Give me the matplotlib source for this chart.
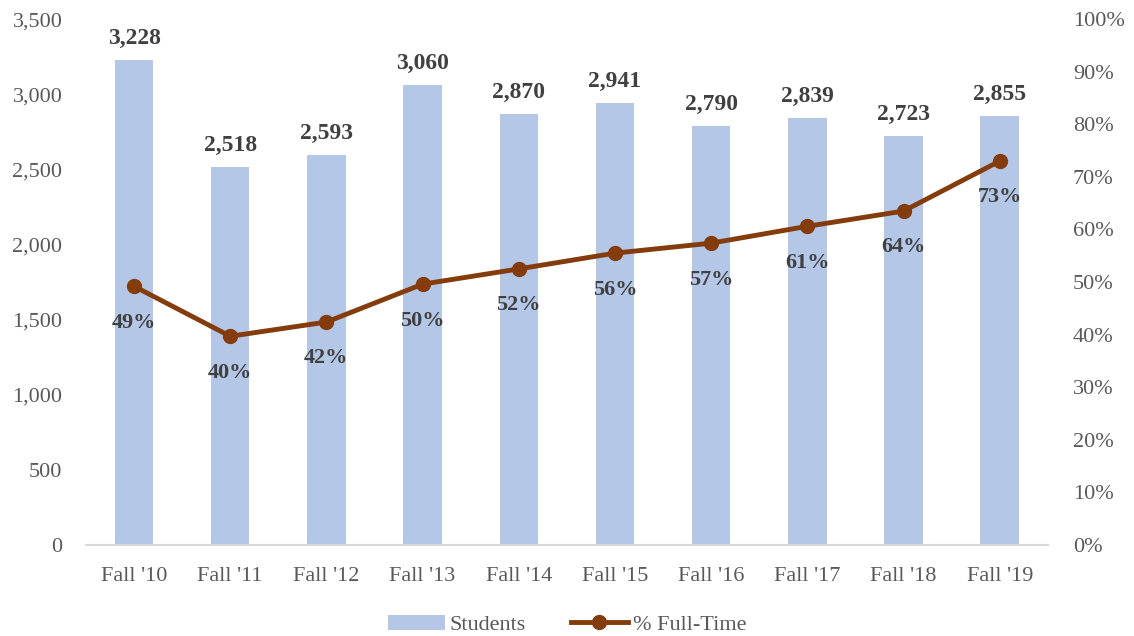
import matplotlib.pyplot as plt
from matplotlib.ticker import FuncFormatter

categories = ["Fall '10", "Fall '11", "Fall '12", "Fall '13", "Fall '14",
              "Fall '15", "Fall '16", "Fall '17", "Fall '18", "Fall '19"]
students = [3228, 2518, 2593, 3060, 2870, 2941, 2790, 2839, 2723, 2855]
pct_full_time = [0.492, 0.397, 0.424, 0.496, 0.525, 0.555, 0.574, 0.606, 0.635, 0.73]

plt.rcParams["font.family"] = ["Liberation Serif", "DejaVu Serif"]
grey = "#595959"
bar_color = "#B4C7E7"
line_color = "#843C0C"

fig = plt.figure(figsize=(11.34, 6.36), dpi=100)
ax = fig.add_axes([0.0758, 0.143, 0.8482, 0.827])
ax2 = ax.twinx()

x = range(len(categories))
bars = ax.bar(x, students, width=0.4, color=bar_color, label="Students", zorder=1)
ax.set_ylim(0, 3500)
ax.set_xlim(-0.5, len(categories) - 0.5)
ax.set_yticks(range(0, 3501, 500))
ax.yaxis.set_major_formatter(FuncFormatter(lambda v, p: f"{int(v):,}"))
ax.set_xticks(list(x))
ax.set_xticklabels(categories)

for xi, v in zip(x, students):
    ax.annotate(f"{v:,}", (xi, v), xytext=(0, 8), textcoords="offset points",
                ha="center", va="bottom", fontsize=17, fontweight="bold", color="#404040")

line, = ax2.plot(x, pct_full_time, color=line_color, lw=3.5, marker="o", ms=10,
                 label="% Full-Time", zorder=3)
ax2.set_ylim(0, 1)
ax2.set_yticks([i / 10 for i in range(11)])
ax2.yaxis.set_major_formatter(FuncFormatter(lambda v, p: f"{v * 100:.0f}%"))

for xi, v in zip(x, pct_full_time):
    ax2.annotate(f"{round(v * 100):.0f}%", (xi, v), xytext=(0, -19), textcoords="offset points",
                 ha="center", va="top", fontsize=16, fontweight="bold", color="#404040")

for a in (ax, ax2):
    for s in ("top", "left", "right", "bottom"):
        a.spines[s].set_visible(False)
    a.tick_params(length=0, labelsize=16, labelcolor=grey)
ax.spines["bottom"].set_visible(True)
ax.spines["bottom"].set_color("#D9D9D9")
ax.spines["bottom"].set_linewidth(1.5)
ax.tick_params(axis="y", pad=17)
ax.tick_params(axis="x", pad=16)
ax2.tick_params(axis="y", pad=18)

fig.legend([bars, line], ["Students", "% Full-Time"], loc="lower center",
           bbox_to_anchor=(0.5, -0.03), ncol=2, frameon=False, fontsize=16,
           labelcolor=grey, handlelength=2.6, handletextpad=0.2, columnspacing=2.0)

fig.savefig("out.png", dpi=100)
